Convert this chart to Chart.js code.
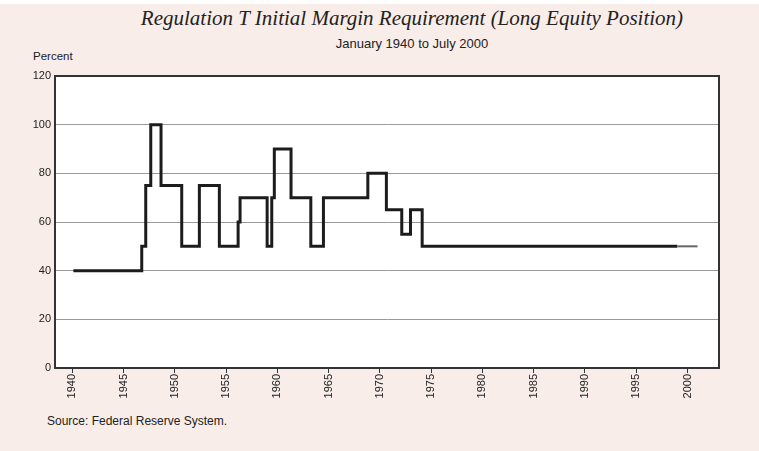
<!DOCTYPE html>
<html>
<head>
<meta charset="utf-8">
<script src="https://cdn.jsdelivr.net/npm/chart.js@4"></script>
<style>
  body { margin: 0; width: 759px; height: 451px; overflow: hidden; position: relative; background: #fff; font-family: "Liberation Sans", Arial, sans-serif; color: #222; }
  #panel { position: absolute; left: 0; top: 4px; width: 759px; height: 447px; background: #f9ede9; }
  #title { position: absolute; left: 0; width: 824px; top: 6px; text-align: center; font: italic 21px "Liberation Serif", serif; color: #222; }
  #subtitle { position: absolute; left: 0; width: 824px; top: 36px; text-align: center; font-size: 13px; }
  #unit { position: absolute; left: 33px; top: 50px; font-size: 11.5px; }
  #source { position: absolute; left: 47px; top: 414px; font-size: 12px; }
  #chart { position: absolute; left: 0; top: 0; }
</style>
</head>
<body>
<div id="panel"></div>
<div id="title">Regulation T Initial Margin Requirement (Long Equity Position)</div>
<div id="subtitle">January 1940 to July 2000</div>
<div id="unit">Percent</div>
<div id="source">Source: Federal Reserve System.</div>
<canvas id="chart" width="759" height="451"></canvas>
<script>
// dates where the margin requirement changed (decimal years) and the new level
var changeYears = [1940.1, 1946.77, 1947.16, 1947.65, 1948.65, 1950.67, 1952.39, 1954.34,
                   1956.17, 1956.36, 1959.0, 1959.45, 1959.7, 1961.33, 1963.26, 1964.49,
                   1968.82, 1970.63, 1972.13, 1972.98, 1974.12, 1999.0, 2000.98];
var margins = [40, 50, 75, 100, 75, 50, 75, 50,
               60, 70, 50, 70, 90, 70, 50, 70,
               80, 65, 55, 65, 50, 50, 50];
var tickYears = [1940, 1945, 1950, 1955, 1960, 1965, 1970, 1975, 1980, 1985, 1990, 1995, 2000];
var percentTicks = [0, 20, 40, 60, 80, 100, 120];

var points = changeYears.map(function (yr, i) { return { x: yr, y: margins[i] }; });

var plotFrame = {
  id: 'plotFrame',
  beforeDraw: function (chart) {
    var a = chart.chartArea, c = chart.ctx;
    c.save();
    c.fillStyle = '#fff';
    c.fillRect(a.left, a.top, a.right - a.left, a.bottom - a.top);
    c.restore();
  },
  afterDraw: function (chart) {
    var a = chart.chartArea, c = chart.ctx;
    c.save();
    c.strokeStyle = '#333';
    c.lineWidth = 2;
    c.strokeRect(a.left, a.top, a.right - a.left, a.bottom - a.top);
    c.restore();
  }
};

var ctx = document.getElementById('chart');
var myChart = new Chart(ctx, {
  type: 'line',
  data: {
    datasets: [{
      label: 'Initial margin',
      data: points,
      stepped: true,
      borderColor: '#1c1c1c',
      borderWidth: 3,
      pointRadius: 0,
      fill: false,
      segment: {
        borderColor: function (c) { return c.p0DataIndex === points.length - 2 ? '#666' : undefined; },
        borderWidth: function (c) { return c.p0DataIndex === points.length - 2 ? 2 : undefined; }
      }
    }]
  },
  options: {
    responsive: false,
    devicePixelRatio: 1,
    animation: false,
    layout: { padding: { left: 25, right: 40, top: 76, bottom: 43 } },
    plugins: { legend: { display: false }, tooltip: { enabled: false } },
    scales: {
      x: {
        type: 'linear',
        min: 1938.31,
        max: 2003.07,
        afterFit: function (s) { s.height = 40; },
        afterBuildTicks: function (s) { s.ticks = tickYears.map(function (v) { return { value: v }; }); },
        grid: { drawOnChartArea: false, drawTicks: true, tickLength: 5, color: '#333', lineWidth: 1 },
        border: { display: true, color: '#333', width: 2 },
        ticks: {
          minRotation: 90, maxRotation: 90, padding: 1, color: '#222',
          font: { family: 'Liberation Sans', size: 11 },
          callback: function (v) { return String(v); }
        }
      },
      y: {
        min: 0,
        max: 120,
        afterFit: function (s) { s.width = 30; },
        afterBuildTicks: function (s) { s.ticks = percentTicks.map(function (v) { return { value: v }; }); },
        grid: {
          drawTicks: false,
          color: function (c) { return (c.tick.value === 0 || c.tick.value === 120) ? 'rgba(0,0,0,0)' : '#9a9a9a'; },
          lineWidth: 1
        },
        border: { display: true, color: '#333', width: 2 },
        ticks: { padding: 4, color: '#222', font: { family: 'Liberation Sans', size: 11 } }
      }
    }
  },
  plugins: [plotFrame]
});
</script>
</body>
</html>
